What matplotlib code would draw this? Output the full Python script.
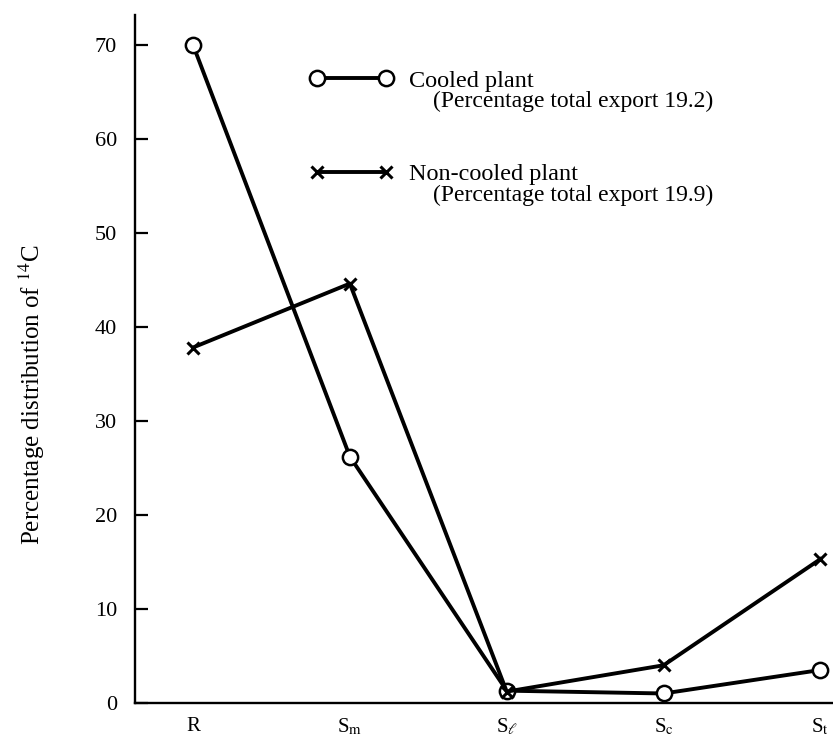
import matplotlib
matplotlib.use('Agg')
import matplotlib.pyplot as plt

# Данные
categories = ['R', r'S$_{\rm m}$', r'S$_{\ell}$', r'S$_{\rm c}$', r'S$_{\rm t}$']
cooled = [70.0, 26.2, 1.3, 1.0, 3.5]
non_cooled = [37.8, 44.6, 1.2, 4.0, 15.3]
yticks = [0, 10, 20, 30, 40, 50, 60, 70]

plt.rcParams['font.family'] = ['Liberation Serif', 'DejaVu Serif']
plt.rcParams['mathtext.fontset'] = 'stix'

fig = plt.figure(figsize=(8.33, 7.36), dpi=100)
ax = fig.add_axes([0.162, 0.045, 0.838, 0.935])

x = list(range(len(categories)))

ax.plot(x, cooled, color='black', linewidth=2.8, marker='o', markersize=11,
        markerfacecolor='white', markeredgecolor='black', markeredgewidth=1.8,
        label='Cooled plant', zorder=3)
ax.plot(x, non_cooled, color='black', linewidth=2.8, marker='x', markersize=9,
        markeredgewidth=2.2, label='Non-cooled plant', zorder=3)

ax.set_xlim(-0.37, 4.08)
ax.set_ylim(0, 73.2)
ax.set_xticks(x)
ax.set_xticklabels(categories, fontsize=15)
ax.set_yticks(yticks)
ax.tick_params(axis='y', direction='in', length=9, width=1.6, labelsize=16, pad=13)
ax.tick_params(axis='x', length=0, pad=10)

for side in ['top', 'right']:
    ax.spines[side].set_visible(False)
ax.spines['left'].set_linewidth(1.7)
ax.spines['bottom'].set_linewidth(1.7)

ax.set_ylabel(r'Percentage distribution of $^{14}$C', fontsize=18)
ax.yaxis.set_label_coords(-0.126, 0.448)

# Легенда: маркеры с линией и первая строка подписи
ax.legend(loc='center left', bbox_to_anchor=(0.219, 0.836), frameon=False,
          numpoints=2, handlelength=3.45, handletextpad=0.65, labelspacing=2.95,
          fontsize=17.5)
# Вторые строки подписей легенды
ax.text(0.427, 0.8735, '(Percentage total export 19.2)', transform=ax.transAxes,
        ha='left', va='center', fontsize=17)
ax.text(0.427, 0.738, '(Percentage total export 19.9)', transform=ax.transAxes,
        ha='left', va='center', fontsize=17)

fig.savefig('out.png', dpi=100)
